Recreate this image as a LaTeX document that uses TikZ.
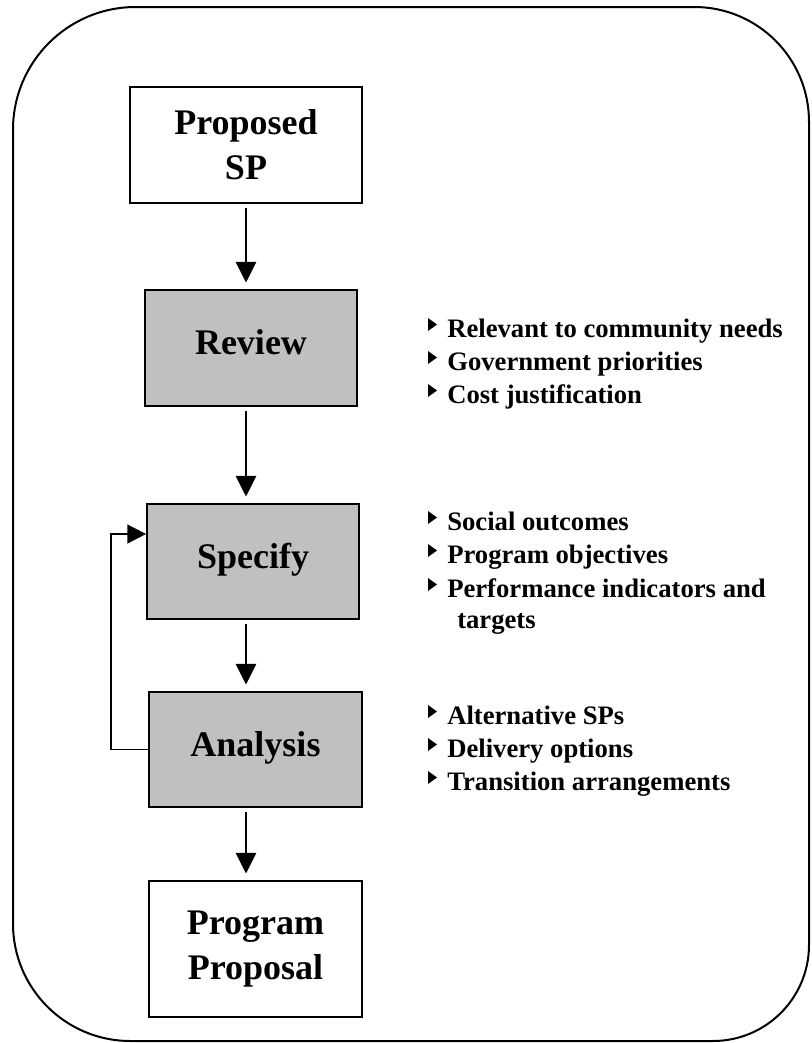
\documentclass[tikz,border=0pt]{standalone}
\usepackage{fontspec}
\setmainfont{Liberation Serif}
\usetikzlibrary{arrows.meta}
\definecolor{boxgray}{HTML}{C0C0C0}
\begin{document}
\begin{tikzpicture}[x=0.75pt,y=-0.75pt,
  box/.style={draw, line width=1.3pt, inner sep=0pt, align=center,
    font=\fontsize{27}{33.75}\selectfont\bfseries},
  graybox/.style={box, fill=boxgray, text height=18.6pt, text depth=8.4pt},
  item/.style={anchor=base west, inner sep=0pt,
    font=\fontsize{20}{24}\selectfont\bfseries},
  bullet/.style={fill=black},
  arr/.style={line width=0.8pt, -{Triangle[length=15.5pt,width=15.5pt]},
    shorten <=3pt, shorten >=5pt},
  looparr/.style={line width=1.3pt, -{Triangle[length=14pt,width=14pt]}},
  frame/.style={line width=1.5pt}]
\useasboundingbox (0,0) rectangle (811,1043);

% outer frame
\draw[frame] (13,560) [rounded corners=92pt] -- (13,7) [rounded corners=86pt] -- (809,7)
  [rounded corners=72pt] -- (809,1041) [rounded corners=88pt] -- (13,1041) [sharp corners] -- cycle;

% process boxes
\node[box, minimum width=174pt, minimum height=87pt] (prop) at (246,145) {Proposed\\SP};
\node[graybox, minimum width=159pt, minimum height=87pt] (rev) at (251,348) {Review};
\node[graybox, minimum width=159pt, minimum height=86.25pt] (spec) at (253,561.5) {Specify};
\node[graybox, minimum width=159.75pt, minimum height=86.25pt] (ana) at (255.5,749.5) {Analysis};
\node[box, minimum width=159.75pt, minimum height=102pt] (pp) at (255.5,949) {Program\\Proposal};

% flow arrows
\draw[arr] (prop.south) -- (prop.south |- rev.north);
\draw[arr] (rev.south -| prop.south) -- (spec.north -| prop.south);
\draw[arr] (spec.south -| prop.south) -- (ana.north -| prop.south);
\draw[arr] (ana.south -| prop.south) -- (pp.north -| prop.south);

% feedback loop from Analysis back to Specify
\coordinate (loop) at (111,534);
\draw[looparr] (ana.west) -- (ana.west -| loop) -- (loop) -- (spec.west |- loop);

% bullet lists
\node[item] (r1) at (447,337) {Relevant to community needs};
\node[item] (r2) at (447,370) {Government priorities};
\node[item] (r3) at (447,403) {Cost justification};

\node[item] (s1) at (447,530) {Social outcomes};
\node[item] (s2) at (447,563) {Program objectives};
\node[item] (s3) at (447,597) {Performance indicators and};
\node[item] (s4) at (457,628) {targets};

\node[item] (a1) at (447,724) {Alternative SPs};
\node[item] (a2) at (447,757) {Delivery options};
\node[item] (a3) at (447,790) {Transition arrangements};

\foreach \n in {r1,r2,r3,s1,s2,s3,a1,a2,a3}
  \fill[bullet] ([shift={(-19,-19)}]\n.base west) -- ++(0,13) -- ++(9,-6.5) -- cycle;
\end{tikzpicture}
\end{document}
